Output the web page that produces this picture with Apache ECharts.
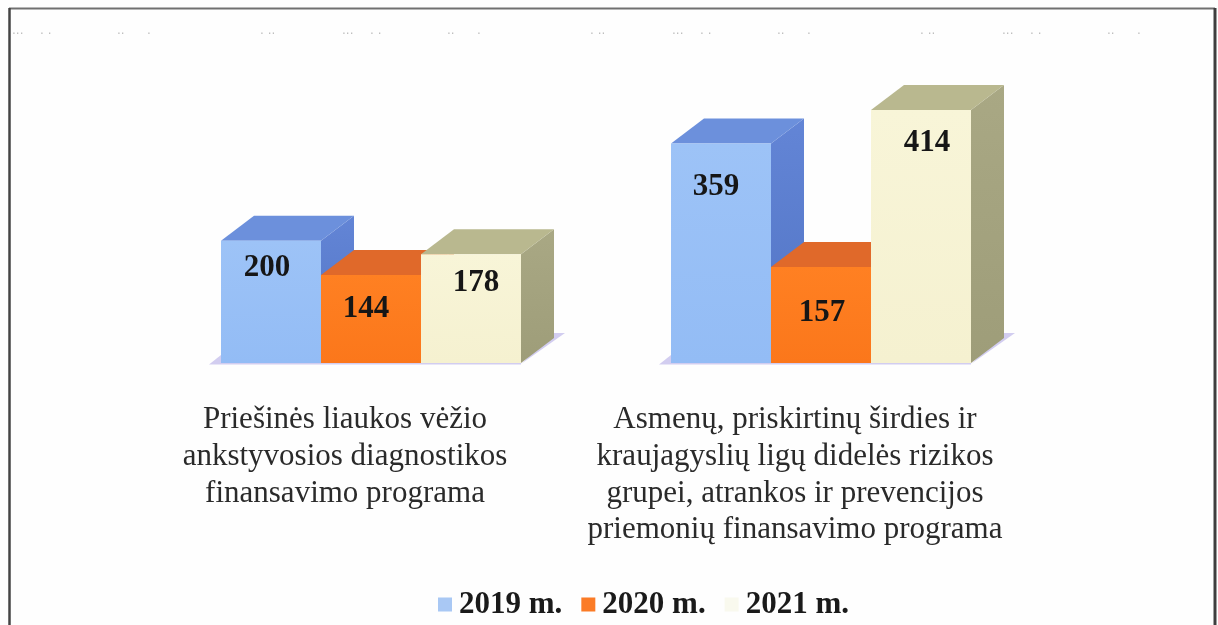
<!DOCTYPE html>
<html>
<head>
<meta charset="utf-8">
<style>html,body{margin:0;padding:0;background:#fff}#c{width:1218px;height:625px}</style>
<script src="https://cdn.jsdelivr.net/npm/echarts@6/dist/echarts.min.js"></script>
</head>
<body>
<div id="c"></div>
<script>
const categories = [
  "Priešinės liaukos vėžio\nankstyvosios diagnostikos\nfinansavimo programa",
  "Asmenų, priskirtinų širdies ir\nkraujagyslių ligų didelės rizikos\ngrupei, atrankos ir prevencijos\npriemonių finansavimo programa"
];
const seriesNames = ["2019 m.", "2020 m.", "2021 m."];
const values2019 = [200, 359];
const values2020 = [144, 157];
const values2021 = [178, 414];

const palette = [
  {front: ['#9DC3F7', '#93BCF5'], top: '#6C90DC', side: ['#6385D6', '#5174C4']},
  {front: ['#FF8022', '#FB771B'], top: '#E0692A', side: ['#D9661F', '#C95C1C']},
  {front: ['#F8F5D8', '#F5F1D0'], top: '#B9B88F', side: ['#A9A884', '#9E9D79']}
];
const legendColors = ['#A9C8F4', '#FB7B26', '#F9F9EE'];
const labelShiftX = [[-4, -5], [-5, 1], [5, 6]];
const labelShiftY = [[27, 43], [34, 46], [29, 33]];

const BAR_W = 100, DX = 33, DY = 25, GROUP_SHIFT = 26;
const FLOOR = '#D2CDF0';

function vGrad(c) {
  return {type: 'linear', x: 0, y: 0, x2: 0, y2: 1, colorStops: [{offset: 0, color: c[0]}, {offset: 1, color: c[1]}]};
}

function makeRender(si) {
  return function (params, api) {
    const cat = api.value(0), val = api.value(1);
    const c = api.coord([cat, val]);
    const b = api.coord([cat, 0]);
    const cx = c[0] + GROUP_SHIFT + (si - 1) * BAR_W;
    const l = cx - BAR_W / 2, r = cx + BAR_W / 2, t = c[1], y0 = b[1];
    const p = palette[si];
    const children = [];
    // floor shadow
    if (si === 0) {
      children.push({type: 'polygon', shape: {points: [[l - 12, y0 + 1.5], [l, y0 - 8], [l, y0 + 1.5]]}, style: {fill: FLOOR}});
    }
    if (si === 2) {
      children.push({type: 'polygon', shape: {points: [[r, y0 + 1], [r + DX + 11, y0 - 30], [r + DX, y0 - 30]]}, style: {fill: FLOOR}});
    }
    children.push({type: 'rect', shape: {x: l, y: y0, width: BAR_W, height: 1.5}, style: {fill: FLOOR}});
    // side face
    children.push({type: 'polygon', shape: {points: [[r, t], [r + DX, t - DY], [r + DX, y0 - DY], [r, y0]]},
      style: {fill: vGrad(p.side)}});
    // top face
    children.push({type: 'polygon', shape: {points: [[l, t], [l + DX, t - DY], [r + DX, t - DY], [r, t]]},
      style: {fill: p.top}});
    // front face
    children.push({type: 'rect', shape: {x: l, y: t, width: BAR_W, height: y0 - t},
      style: {fill: vGrad(p.front)}});
    // value label
    children.push({type: 'text',
      x: cx + labelShiftX[si][cat], y: t + labelShiftY[si][cat],
      style: {text: String(val), fill: '#161616', align: 'center', verticalAlign: 'middle',
        font: 'bold 31px "Liberation Serif"'}});
    return {type: 'group', children};
  };
}

const allValues = [values2019, values2020, values2021];
const specks = [];
[0, 330, 660, 990].forEach(function (off) {
  [[12, '···'], [40, '· ·'], [117, '··'], [147, '·'], [260, '· ··']].forEach(function (s) {
    if (s[0] + off < 1190) specks.push({type: 'text', x: s[0] + off, y: 29,
      style: {text: s[1], fill: '#BEBEBE', font: '12px "DejaVu Sans"'}, silent: true});
  });
});

const chart = echarts.init(document.getElementById('c'), null, {renderer: 'canvas'});
chart.setOption({
  animation: false,
  backgroundColor: '#FEFEFE',
  grid: {left: 120, width: 900, top: 110, bottom: 262, containLabel: false},
  legend: {
    left: 433, top: 584, itemWidth: 14, itemHeight: 14, itemGap: 19, icon: 'rect',
    data: seriesNames,
    textStyle: {fontFamily: 'Liberation Serif', fontWeight: 'bold', fontSize: 31, color: '#1A1A1A', padding: [0, 0, 0, 2]}
  },
  xAxis: {
    type: 'category', data: categories,
    axisLine: {show: false}, axisTick: {show: false},
    axisLabel: {fontFamily: 'Liberation Serif', fontSize: 31, color: '#2A2A2A', lineHeight: 36.6, margin: 39, interval: 0}
  },
  yAxis: {type: 'value', min: 0, max: 414, show: false},
  series: seriesNames.map(function (name, si) {
    return {
      name: name, type: 'custom', renderItem: makeRender(si),
      encode: {x: 0, y: 1},
      itemStyle: {color: legendColors[si]},
      data: allValues[si].map(function (v, i) { return [i, v]; }),
      silent: true, z: 2 + si
    };
  }),
  graphic: [
    {type: 'line', shape: {x1: 9, y1: 8.5, x2: 1215, y2: 8.5}, style: {stroke: '#707070', lineWidth: 2}},
    {type: 'line', shape: {x1: 9.5, y1: 8, x2: 9.5, y2: 625}, style: {stroke: '#444444', lineWidth: 2.5}},
    {type: 'line', shape: {x1: 1215, y1: 8, x2: 1215, y2: 625}, style: {stroke: '#3E3E3E', lineWidth: 3}}
  ].concat(specks)
});
</script>
</body>
</html>
